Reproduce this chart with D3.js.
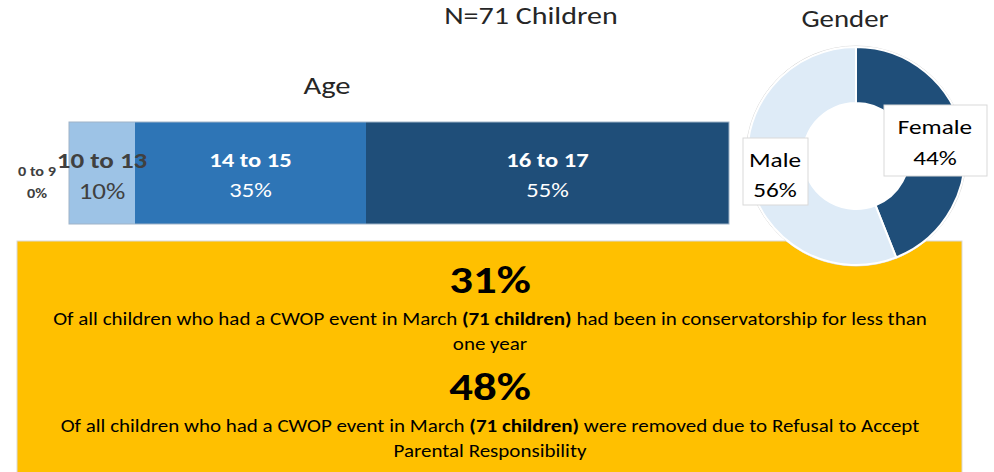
<!DOCTYPE html>
<html>
<head>
<meta charset="utf-8">
<script src="https://cdn.jsdelivr.net/npm/d3@7"></script>
<style>
  body { margin: 0; background: #fff; }
  svg { display: block; font-family: Carlito, Calibri, Lato, sans-serif; }
</style>
</head>
<body>
<svg id="chart" width="994" height="472"></svg>
<script>
// data
const ageGroups = ['0 to 9', '10 to 13', '14 to 15', '16 to 17']
const agePct = [0, 10, 35, 55]
const ageColors = ['#9dc3e6', '#9dc3e6', '#2e75b6', '#1f4e79']

const genders = ['Female', 'Male']
const genderPct = [44, 56]
const genderColors = ['#1f4e79', '#deebf7']

const statValues = ['31%', '48%']
const statLines = [
  [['Of all children who had a CWOP event in March ', '(71 children)', ' had been in conservatorship for less than'], ['one year']],
  [['Of all children who had a CWOP event in March ', '(71 children)', ' were removed due to Refusal to Accept'], ['Parental Responsibility']]
]

const svg = d3.select('#chart')
// the original slide is a little wider than tall, text looks stretched
const stretch = 1.2

// titles
svg.append('text').attr('x', 531).attr('y', 24).attr('text-anchor', 'middle')
  .attr('font-size', 25).attr('fill', '#262626').text('N=71 Children')
svg.append('text').attr('x', 327).attr('y', 94).attr('text-anchor', 'middle')
  .attr('font-size', 25.5).attr('fill', '#262626').text('Age')
svg.append('text').attr('x', 845).attr('y', 27).attr('text-anchor', 'middle')
  .attr('font-size', 24).attr('fill', '#262626').text('Gender')

// age stacked bar
const x = d3.scaleLinear().domain([0, 100]).range([69, 729])
const y = d3.scaleBand().domain(['Age']).range([122, 224])
const ageData = ageGroups.map((g, i) => ({
  group: g,
  value: agePct[i],
  start: d3.sum(agePct.slice(0, i)),
  color: ageColors[i]
}))

const bar = svg.append('g').attr('class', 'age-bar')
bar.selectAll('rect')
  .data(ageData.filter(d => d.value > 0))
  .join('rect')
  .attr('x', d => x(d.start))
  .attr('y', y('Age'))
  .attr('width', d => x(d.start + d.value) - x(d.start))
  .attr('height', y.bandwidth())
  .attr('fill', d => d.color)
bar.append('rect')
  .attr('x', x(0)).attr('y', y('Age'))
  .attr('width', x(100) - x(0)).attr('height', y.bandwidth())
  .attr('fill', 'none').attr('stroke', '#9fb3c8').attr('stroke-width', 1)

const ageLabels = bar.selectAll('.age-label')
  .data(ageData)
  .join('g')
  .attr('class', 'age-label')
ageLabels.each(function (d, i) {
  const g = d3.select(this)
  let cx, y1, y2, size, fill, bold2
  if (d.value === 0) {
    cx = 37; y1 = 176; y2 = 198; size = 13.5; fill = '#404040'; bold2 = true
  } else if (i === 1) {
    cx = x(d.start + d.value / 2); y1 = 168; y2 = 199; size = 22.5; fill = '#404040'; bold2 = false
  } else {
    cx = x(d.start + d.value / 2); y1 = 167; y2 = 197; size = 20.5; fill = '#ffffff'; bold2 = false
  }
  g.append('text').attr('x', cx).attr('y', y1).attr('text-anchor', 'middle')
    .attr('font-size', size).attr('font-weight', 'bold').attr('fill', fill).text(d.group)
  g.append('text').attr('x', cx).attr('y', y2).attr('text-anchor', 'middle')
    .attr('font-size', size).attr('font-weight', bold2 ? 'bold' : 'normal').attr('fill', fill)
    .text(d.value + '%')
})

// yellow summary box
svg.append('rect')
  .attr('x', 17).attr('y', 241).attr('width', 945).attr('height', 240)
  .attr('fill', '#ffc000').attr('stroke', '#d9d9d9').attr('stroke-width', 1)

const statTop = [293, 400]
statValues.forEach((v, i) => {
  svg.append('text').attr('x', 490).attr('y', statTop[i]).attr('text-anchor', 'middle')
    .attr('font-size', 39).attr('font-weight', 'bold').attr('fill', '#000').text(v)
  statLines[i].forEach((parts, j) => {
    const t = svg.append('text').attr('x', 490).attr('y', statTop[i] + 32 + j * 25)
      .attr('text-anchor', 'middle').attr('font-size', 17.5).attr('fill', '#000')
    parts.forEach((p, k) => {
      t.append('tspan').attr('font-weight', k === 1 ? 'bold' : 'normal').text(p)
    })
  })
})

// gender donut
const pie = d3.pie().sort(null).value(d => d)
const arc = d3.arc().innerRadius(53).outerRadius(109)
const donut = svg.append('g').attr('transform', 'translate(856,156)')
donut.append('circle').attr('r', 110).attr('fill', '#fff').attr('stroke', '#d9d9d9')
donut.selectAll('path')
  .data(pie(genderPct))
  .join('path')
  .attr('d', arc)
  .attr('fill', (d, i) => genderColors[i])
  .attr('stroke', '#fff')
  .attr('stroke-width', 2)

const genderLabelPos = [
  { box: [884, 105, 103, 71], cx: 935, y1: 134, y2: 165 },
  { box: [743, 138, 65, 67], cx: 775, y1: 167, y2: 197 }
]
genders.forEach((g, i) => {
  const p = genderLabelPos[i]
  svg.append('rect').attr('x', p.box[0]).attr('y', p.box[1])
    .attr('width', p.box[2]).attr('height', p.box[3])
    .attr('fill', '#fff').attr('stroke', '#d9d9d9')
  svg.append('text').attr('x', p.cx).attr('y', p.y1).attr('text-anchor', 'middle')
    .attr('font-size', 21).attr('fill', '#000').text(g)
  svg.append('text').attr('x', p.cx).attr('y', p.y2).attr('text-anchor', 'middle')
    .attr('font-size', 21).attr('fill', '#000').text(genderPct[i] + '%')
})

// widen every label around its anchor point
svg.selectAll('text').attr('transform', function () {
  const ax = +this.getAttribute('x')
  return `translate(${ax * (1 - stretch)},0) scale(${stretch},1)`
})
</script>
</body>
</html>
